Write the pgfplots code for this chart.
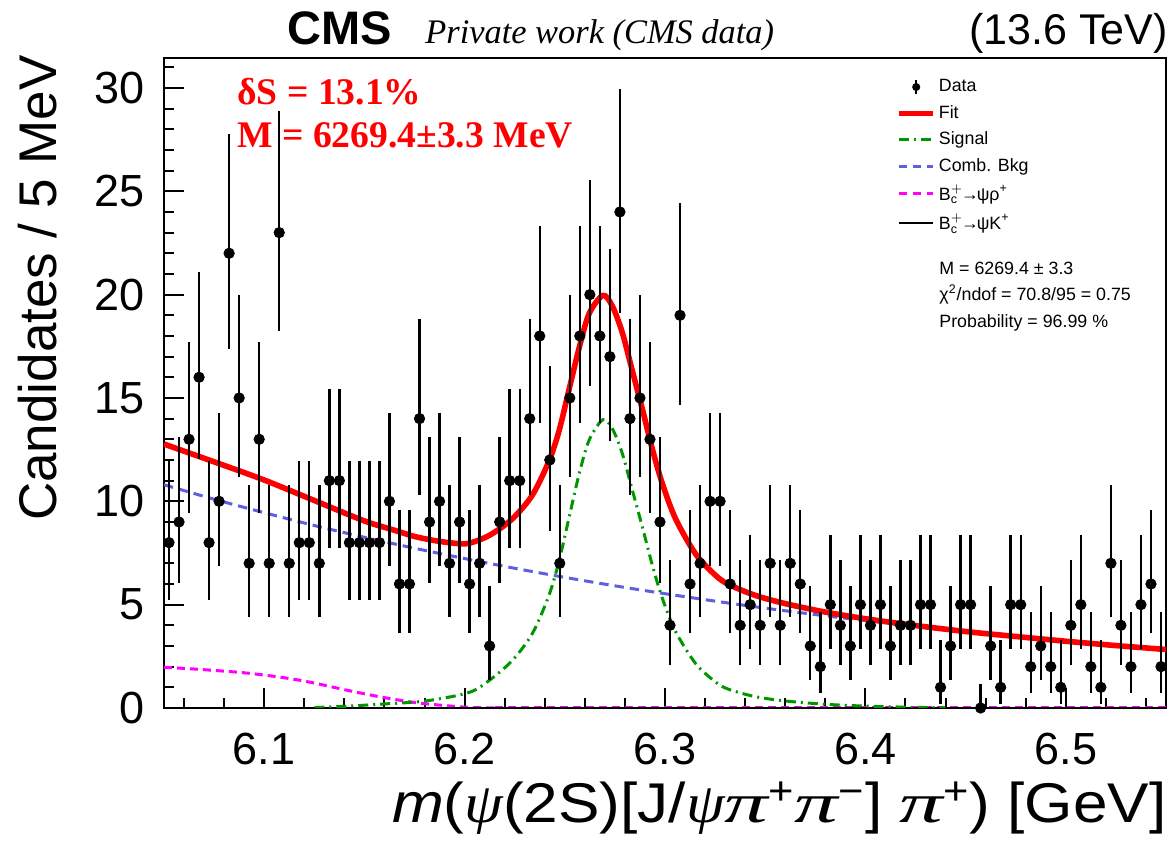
\documentclass[border=0pt]{standalone}
\usepackage{fontspec}
\setmainfont{Liberation Sans}
\newfontfamily\serif{Liberation Serif}
\usepackage{graphicx}
\usepackage{pgfplots}
\pgfplotsset{compat=1.18}
\usepackage{pgfplotstable}
\definecolor{fitred}{RGB}{255,0,0}
\definecolor{siggreen}{RGB}{0,150,0}
\definecolor{bkgblue}{RGB}{95,95,225}
\definecolor{rhomag}{RGB}{255,0,255}
\newcommand{\gpi}{\scalebox{1.4}[1]{\serif\itshape π}}
\newcommand{\gpsi}{{\serif\itshape ψ}}

\pgfplotstableread{
x y em ep
6.0525 8 2.77 3.95
6.0575 9 2.94 4.11
6.0625 13 3.56 4.70
6.0675 16 3.96 5.08
6.0725 8 2.77 3.95
6.0775 10 3.11 4.27
6.0825 22 4.65 5.76
6.0875 15 3.83 4.96
6.0925 7 2.58 3.77
6.0975 13 3.56 4.70
6.1025 7 2.58 3.77
6.1075 23 4.76 5.87
6.1125 7 2.58 3.77
6.1175 8 2.77 3.95
6.1225 8 2.77 3.95
6.1275 7 2.58 3.77
6.1325 11 3.27 4.42
6.1375 11 3.27 4.42
6.1425 8 2.77 3.95
6.1475 8 2.77 3.95
6.1525 8 2.77 3.95
6.1575 8 2.77 3.95
6.1625 10 3.11 4.27
6.1675 6 2.38 3.58
6.1725 6 2.38 3.58
6.1775 14 3.70 4.83
6.1825 9 2.94 4.11
6.1875 10 3.11 4.27
6.1925 7 2.58 3.77
6.1975 9 2.94 4.11
6.2025 6 2.38 3.58
6.2075 7 2.58 3.77
6.2125 3 1.63 2.92
6.2175 9 2.94 4.11
6.2225 11 3.27 4.42
6.2275 11 3.27 4.42
6.2325 14 3.70 4.83
6.2375 18 4.20 5.32
6.2425 12 3.42 4.56
6.2475 7 2.58 3.77
6.2525 15 3.83 4.96
6.2575 18 4.20 5.32
6.2625 20 4.44 5.55
6.2675 18 4.20 5.32
6.2725 17 4.08 5.20
6.2775 24 4.87 5.97
6.2825 14 3.70 4.83
6.2875 15 3.83 4.96
6.2925 13 3.56 4.70
6.2975 9 2.94 4.11
6.3025 4 1.91 3.16
6.3075 19 4.32 5.44
6.3125 6 2.38 3.58
6.3175 7 2.58 3.77
6.3225 10 3.11 4.27
6.3275 10 3.11 4.27
6.3325 6 2.38 3.58
6.3375 4 1.91 3.16
6.3425 5 2.16 3.38
6.3475 4 1.91 3.16
6.3525 7 2.58 3.77
6.3575 4 1.91 3.16
6.3625 7 2.58 3.77
6.3675 6 2.38 3.58
6.3725 3 1.63 2.92
6.3775 2 1.29 2.64
6.3825 5 2.16 3.38
6.3875 4 1.91 3.16
6.3925 3 1.63 2.92
6.3975 5 2.16 3.38
6.4025 4 1.91 3.16
6.4075 5 2.16 3.38
6.4125 3 1.63 2.92
6.4175 4 1.91 3.16
6.4225 4 1.91 3.16
6.4275 5 2.16 3.38
6.4325 5 2.16 3.38
6.4375 1 0.83 2.30
6.4425 3 1.63 2.92
6.4475 5 2.16 3.38
6.4525 5 2.16 3.38
6.4575 0 0.00 1.15
6.4625 3 1.63 2.92
6.4675 1 0.83 2.30
6.4725 5 2.16 3.38
6.4775 5 2.16 3.38
6.4825 2 1.29 2.64
6.4875 3 1.63 2.92
6.4925 2 1.29 2.64
6.4975 1 0.83 2.30
6.5025 4 1.91 3.16
6.5075 5 2.16 3.38
6.5125 2 1.29 2.64
6.5175 1 0.83 2.30
6.5225 7 2.58 3.77
6.5275 4 1.91 3.16
6.5325 2 1.29 2.64
6.5375 5 2.16 3.38
6.5425 6 2.38 3.58
6.5475 2 1.29 2.64
}\datatable

\begin{document}
\begin{tikzpicture}
\useasboundingbox (-82pt,-70.5pt) rectangle (504.5pt,354pt);
\begin{axis}[
  at={(0pt,0pt)}, anchor=south west,
  scale only axis, width=501pt, height=325pt,
  xmin=6.05, xmax=6.55, ymin=0, ymax=31.45,
  axis line style={line width=1.1pt},
  tick style={line width=1pt, black},
  tick align=inside, tick pos=left,
  major tick length=10pt, minor tick length=5pt,
  xtick={6.1,6.2,6.3,6.4,6.5}, xticklabels={6.1,6.2,6.3,6.4,6.5},
  minor xtick={6.06,6.08,6.12,6.14,6.16,6.18,6.22,6.24,6.26,6.28,6.32,6.34,6.36,6.38,6.42,6.44,6.46,6.48,6.52,6.54},
  ytick={0,5,10,15,20,25,30}, yticklabels={0,5,10,15,20,25,30},
  minor ytick={1,2,3,4,6,7,8,9,11,12,13,14,16,17,18,19,21,22,23,24,26,27,28,29,31},
  xticklabel style={font=\fontsize{22.5}{27}\selectfont, inner sep=0pt, yshift=-12.5pt},
  yticklabel style={font=\fontsize{22.5}{27}\selectfont, inner sep=0pt, xshift=-9.5pt},
  legend style={draw=none, fill=none, at={(0.7307,0.9723)}, anchor=north west,
    font=\fontsize{8.9}{10.5}\selectfont, row sep=2.3pt, inner sep=0pt,
    nodes={inner sep=1.5pt}},
  legend cell align=left,
]
% components
\addplot[bkgblue, line width=1.5pt, dash pattern=on 4.7pt off 3pt, smooth, forget plot] coordinates {
(6.05,10.80) (6.075,10.10) (6.10,9.45) (6.125,8.83) (6.15,8.26) (6.175,7.73) (6.20,7.23) (6.225,6.76) (6.25,6.32) (6.275,5.91) (6.30,5.53) (6.325,5.17) (6.35,4.83) (6.375,4.52) (6.40,4.23) (6.425,3.95) (6.45,3.70) (6.475,3.46) (6.50,3.23) (6.525,3.02) (6.55,2.83)};
\addplot[rhomag, line width=1.5pt, dash pattern=on 4pt off 2.5pt, smooth, forget plot] coordinates {
(6.05,1.97) (6.0675,1.87) (6.0924,1.68) (6.1174,1.35) (6.1423,0.84) (6.1589,0.52) (6.1756,0.26) (6.1922,0.10) (6.2022,0.03) (6.215,0.0)};
\addplot[rhomag, line width=1.5pt, dash pattern=on 4pt off 2.5pt, forget plot] coordinates {(6.215,0.0) (6.55,0.0)};
\addplot[black, line width=0.8pt, forget plot] coordinates {(6.05,0) (6.55,0)};
\addplot[siggreen, line width=1.5pt, dash pattern=on 5pt off 2.5pt on 1pt off 2.5pt, smooth, forget plot] coordinates {
(6.125,0.02) (6.14,0.08) (6.159,0.19) (6.1806,0.34) (6.2022,0.75) (6.2125,1.35) (6.2238,2.3) (6.2338,3.6) (6.2421,5.45) (6.2471,7.1) (6.2521,9.2) (6.2571,11.3) (6.2621,12.95) (6.2690,13.95) (6.2737,13.52) (6.2787,12.31) (6.2837,10.54) (6.2887,8.76) (6.2937,6.9) (6.2987,5.3) (6.3053,3.7) (6.3153,2.15) (6.3253,1.25) (6.3319,0.9) (6.345,0.55) (6.36,0.34) (6.38,0.18) (6.40,0.09) (6.42,0.04) (6.44,0.01)};
\addplot[fitred, line width=2.8pt, smooth, forget plot] coordinates {
(6.05,12.77) (6.075,11.91) (6.10,11.03) (6.125,10.04) (6.15,9.05) (6.165,8.60) (6.175,8.30) (6.185,8.10) (6.195,7.97) (6.2022,7.97) (6.2125,8.36) (6.2238,9.15) (6.2338,10.3) (6.2421,11.95) (6.2471,13.4) (6.2521,15.4) (6.2571,17.4) (6.2621,19.07) (6.2690,19.96) (6.2737,19.45) (6.2787,18.16) (6.2837,16.31) (6.2887,14.46) (6.2937,12.52) (6.2987,10.85) (6.3053,9.15) (6.3153,7.45) (6.3253,6.41) (6.3319,5.97) (6.345,5.45) (6.36,5.05) (6.38,4.64) (6.40,4.32) (6.42,4.05) (6.45,3.70) (6.475,3.46) (6.50,3.23) (6.525,3.02) (6.55,2.83)};
% data
\addplot[only marks, mark=*, mark size=2.6pt, black, forget plot,
  error bars/.cd, y dir=both, y explicit, error mark=none,
  error bar style={line width=1.2pt, black}]
  table[x=x, y=y, y error plus=ep, y error minus=em] {\datatable};
% legend
\addlegendimage{legend image code/.code={\draw[black,line width=1.1pt] (0.3cm,-3.5pt)--(0.3cm,3.5pt); \fill[black] (0.3cm,0pt) circle (1.8pt);}}
\addlegendentry{Data}
\addlegendimage{fitred, line width=2.6pt}
\addlegendentry{Fit}
\addlegendimage{siggreen, line width=1.5pt, dash pattern=on 5pt off 2.5pt on 1pt off 2.5pt}
\addlegendentry{Signal}
\addlegendimage{bkgblue, line width=1.5pt, dash pattern=on 4pt off 3pt}
\addlegendentry{Comb. Bkg}
\addlegendimage{rhomag, line width=1.5pt, dash pattern=on 4pt off 3pt}
\addlegendentry{B$^{+}_{\mathrm{c}}$\kern-1pt→\kern-1ptψρ\textsuperscript{+}}
\addlegendimage{black, line width=0.8pt}
\addlegendentry{B$^{+}_{\mathrm{c}}$\kern-1pt→\kern-1ptψK\textsuperscript{+}}
\end{axis}
% header
\node[anchor=base] at (88pt,331.5pt) {\fontsize{23.5}{28}\selectfont\bfseries CMS};
\node[anchor=base west, inner sep=0pt] at (130.5pt,332pt) {\fontsize{17.2}{20}\selectfont\serif\itshape Private work (CMS data)};
\node[anchor=base east, inner sep=0pt] at (502pt,331.5pt) {\fontsize{21.5}{26}\selectfont (13.6 TeV)};
% red annotations
\node[anchor=base west, inner sep=0pt, text=fitred] at (36.5pt,301.5pt) {\fontsize{18.8}{22}\selectfont\serif\bfseries δS = 13.1\%};
\node[anchor=base west, inner sep=0pt, text=fitred] at (36.5pt,280pt) {\fontsize{18.8}{22}\selectfont\serif\bfseries M = 6269.4±3.3 MeV};
% fit statistics
\node[anchor=base west, inner sep=0pt] at (387.5pt,216.5pt) {\fontsize{8.9}{10.5}\selectfont M = 6269.4 ± 3.3};
\node[anchor=base west, inner sep=0pt] at (387.5pt,203.65pt) {\fontsize{8.9}{10.5}\selectfont χ\textsuperscript{2}/ndof = 70.8/95 = 0.75};
\node[anchor=base west, inner sep=0pt] at (387.5pt,190.35pt) {\fontsize{8.9}{10.5}\selectfont Probability = 96.99 \%};
% axis titles
\node[rotate=90, anchor=base east, inner sep=0pt] at (-53.65pt,326.5pt) {\fontsize{26.5}{31}\selectfont Candidates / 5 MeV};
\node[anchor=base east, inner sep=0pt, xscale=1.11] at (501.5pt,-57.5pt) {\fontsize{28}{33}\selectfont \textit{m}(\gpsi(2S)[J/\gpsi\gpi\textsuperscript{+}\gpi\textsuperscript{−}] \gpi\textsuperscript{+}) [GeV]};
\end{tikzpicture}
\end{document}
